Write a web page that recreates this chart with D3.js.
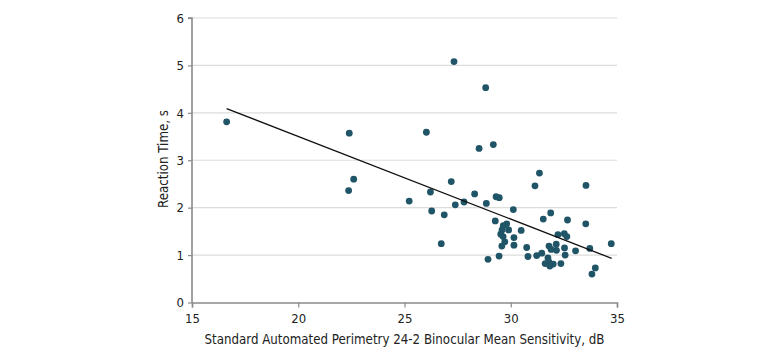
<!DOCTYPE html>
<html>
<head>
<meta charset="utf-8">
<script src="https://cdn.jsdelivr.net/npm/d3@7"></script>
<style>
  html, body { margin: 0; padding: 0; background: #fff; }
  svg { display: block; }
  text { font-family: "DejaVu Sans Condensed", "Liberation Sans Narrow", sans-serif; fill: #222; }
</style>
</head>
<body>
<svg id="chart" width="780" height="357"></svg>
<script>
// Binocular mean sensitivity (dB)
const sensitivity = [
  16.63, 22.40, 22.61, 22.37, 25.22, 26.03, 27.33, 28.82, 28.51, 29.18,
  27.20, 26.22, 26.28, 26.87, 27.39, 27.80, 28.30, 26.73, 28.85, 29.31,
  29.46, 31.35, 31.14, 33.54, 30.12, 29.27, 29.81, 29.65, 29.59, 29.90,
  29.53, 29.64, 29.72, 29.58, 28.93, 29.45, 30.49, 30.15, 30.15, 30.75,
  30.81, 31.22, 31.46, 31.88, 31.53, 32.67, 33.53, 32.22, 32.52, 32.64,
  32.14, 31.80, 31.90, 32.15, 32.53, 32.56, 31.75, 31.80, 31.62, 31.84,
  32.00, 32.36, 33.05, 33.72, 34.73, 33.98, 33.82
];
// Reaction time (s)
const reactionTime = [
  3.81, 3.57, 2.60, 2.36, 2.14, 3.59, 5.08, 4.53, 3.25, 3.33,
  2.55, 2.33, 1.93, 1.85, 2.06, 2.12, 2.29, 1.24, 2.09, 2.23,
  2.21, 2.73, 2.46, 2.47, 1.96, 1.72, 1.66, 1.62, 1.53, 1.53,
  1.44, 1.39, 1.28, 1.19, 0.91, 0.98, 1.52, 1.37, 1.21, 1.16,
  0.97, 0.99, 1.04, 1.89, 1.76, 1.74, 1.66, 1.43, 1.45, 1.39,
  1.23, 1.19, 1.12, 1.10, 1.15, 1.00, 0.94, 0.85, 0.82, 0.77,
  0.81, 0.82, 1.09, 1.14, 1.24, 0.73, 0.60
];
// Fitted regression line endpoints
const fitX = [16.63, 34.75];
const fitY = [4.09, 0.93];

const xTicks = [15, 20, 25, 30, 35];
const yTicks = [0, 1, 2, 3, 4, 5, 6];
const xTitle = "Standard Automated Perimetry 24-2 Binocular Mean Sensitivity, dB";
const yTitle = "Reaction Time, s";

const margin = { left: 192, right: 163, top: 18, bottom: 55 };
const W = 780, H = 357;
const svg = d3.select("#chart");

const x = d3.scaleLinear().domain([15, 35]).range([margin.left, W - margin.right]);
const y = d3.scaleLinear().domain([0, 6]).range([H - margin.bottom + 0.5, margin.top]);

// gridlines
svg.append("g")
  .selectAll("line")
  .data(yTicks.filter(d => d > 0))
  .join("line")
  .attr("x1", x(15)).attr("x2", x(35))
  .attr("y1", d => y(d)).attr("y2", d => y(d))
  .attr("stroke", "#dcdcdc").attr("stroke-width", 1.2);

// y axis
const yAxis = svg.append("g")
  .attr("transform", `translate(${x(15)},0)`)
  .call(d3.axisLeft(y).tickValues(yTicks).tickSize(4).tickPadding(4).tickFormat(d3.format("d")));
// x axis
const xAxis = svg.append("g")
  .attr("transform", `translate(0,${y(0)})`)
  .call(d3.axisBottom(x).tickValues(xTicks).tickSize(5).tickPadding(6).tickFormat(d3.format("d")));

[yAxis, xAxis].forEach(g => {
  g.select(".domain").attr("stroke", "#8a8a8a").attr("stroke-width", 1.6);
  g.selectAll(".tick line").attr("stroke", "#8a8a8a").attr("stroke-width", 1.2);
  g.selectAll(".tick text").attr("font-size", 13).attr("fill", "#222")
    .style("font-family", '"DejaVu Sans Condensed", "Liberation Sans Narrow", sans-serif');
});
yAxis.select(".domain").attr("d", `M-4,${y(6)}H0V${y(0)}`);

// points
svg.append("g")
  .selectAll("circle")
  .data(sensitivity.map((s, i) => [s, reactionTime[i]]))
  .join("circle")
  .attr("cx", d => x(d[0]))
  .attr("cy", d => y(d[1]))
  .attr("r", 3.4)
  .attr("fill", "#1f5567");

// regression line
svg.append("path")
  .datum(fitX.map((v, i) => [v, fitY[i]]))
  .attr("d", d3.line().x(d => x(d[0])).y(d => y(d[1])))
  .attr("fill", "none")
  .attr("stroke", "#111")
  .attr("stroke-width", 1.3);

// titles
svg.append("text")
  .attr("x", (x(15) + x(35)) / 2)
  .attr("y", 343.5)
  .attr("text-anchor", "middle")
  .attr("font-size", 14)
  .attr("textLength", 400)
  .attr("lengthAdjust", "spacingAndGlyphs")
  .text(xTitle);

svg.append("text")
  .attr("transform", `translate(167.5,159) rotate(-90)`)
  .attr("text-anchor", "middle")
  .attr("font-size", 14)
  .attr("textLength", 98)
  .attr("lengthAdjust", "spacingAndGlyphs")
  .text(yTitle);
</script>
</body>
</html>
